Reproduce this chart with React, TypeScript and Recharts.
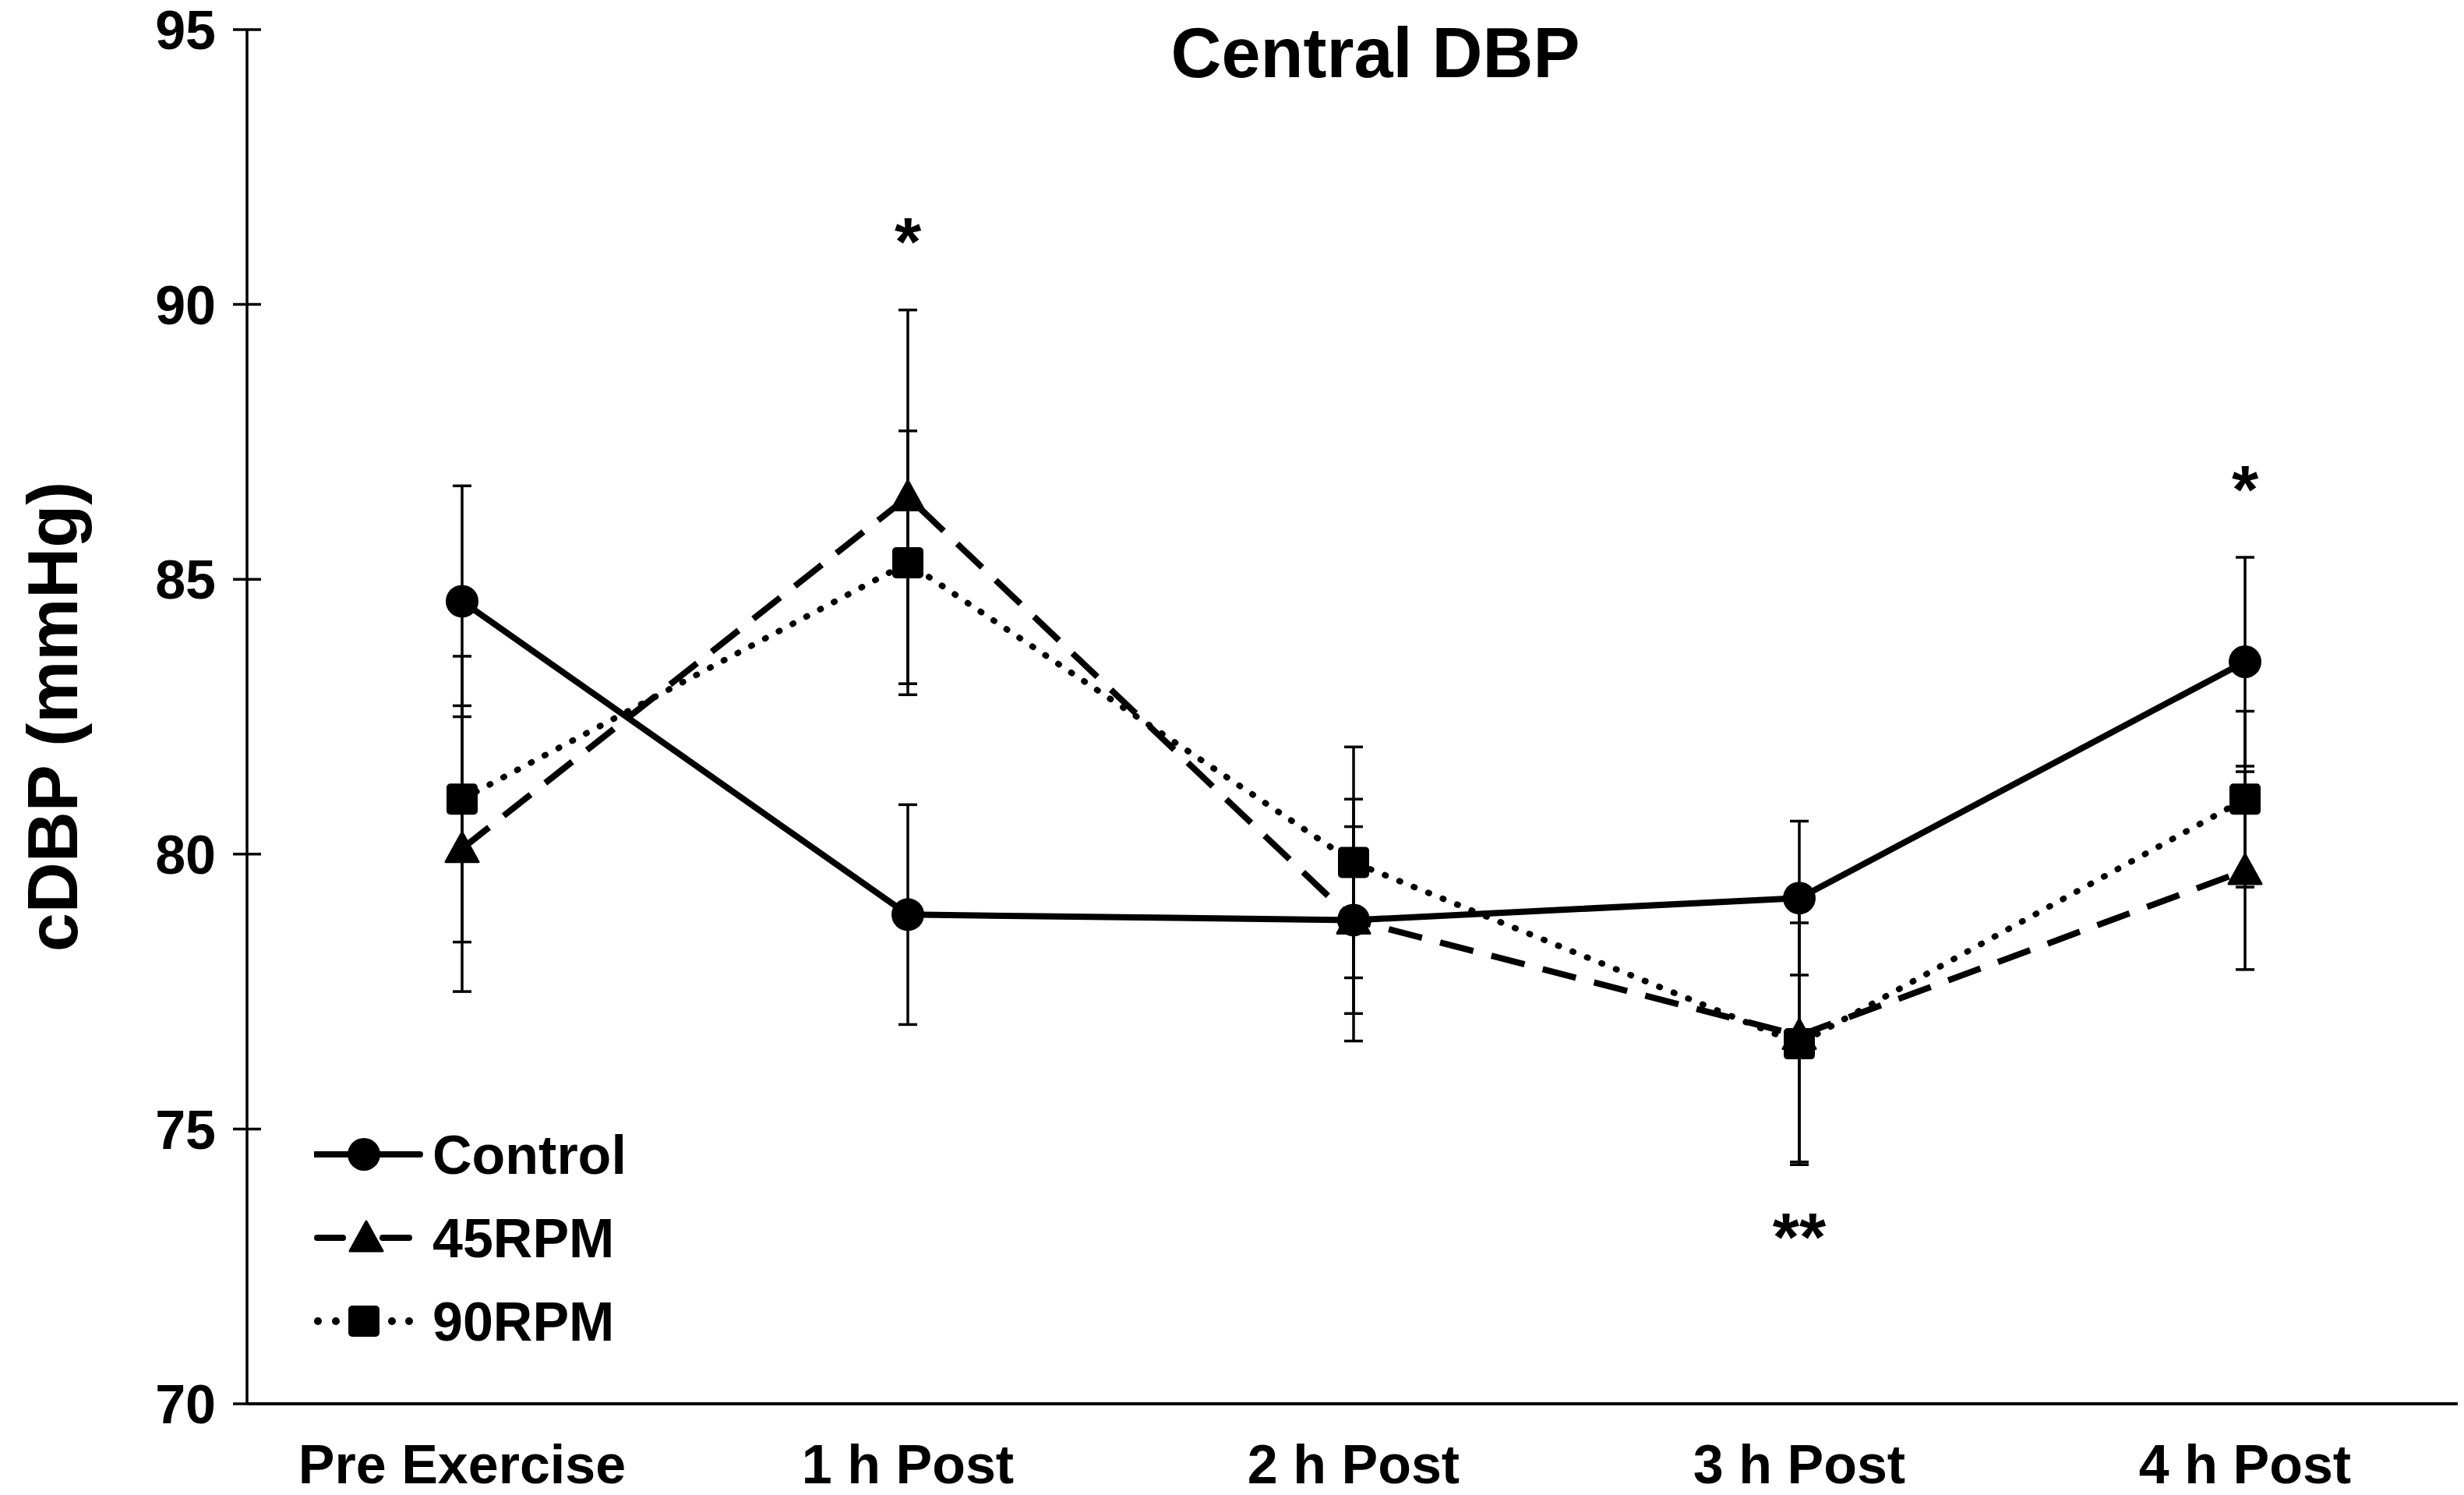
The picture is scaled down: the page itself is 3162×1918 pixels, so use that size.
import {
  LineChart,
  Line,
  XAxis,
  YAxis,
  ErrorBar,
  Legend,
  ReferenceDot,
} from "recharts";

const FONT = "'Liberation Sans', Arial, sans-serif";

const timepoints = ["Pre Exercise", "1 h Post", "2 h Post", "3 h Post", "4 h Post"];
const controlMean = [84.6, 78.9, 78.8, 79.2, 83.5];
const controlErr = [2.1, 2.0, 2.2, 1.4, 1.9];
const rpm45Mean = [80.1, 86.5, 78.8, 76.7, 79.7];
const rpm45Err = [2.6, 3.4, 1.7, 2.3, 1.8];
const rpm90Mean = [81.0, 85.3, 79.85, 76.55, 81.0];
const rpm90Err = [2.6, 2.4, 2.1, 2.2, 1.6];
const yTicks = [70, 75, 80, 85, 90, 95];

// significance markers
const sigTimes = ["1 h Post", "3 h Post", "4 h Post"];
const sigLevels = [91.3, 73.2, 86.8];
const sigMarks = ["*", "**", "*"];

const data = timepoints.map((t, i) => ({
  time: t,
  control: controlMean[i],
  controlErr: controlErr[i],
  rpm45: rpm45Mean[i],
  rpm45Err: rpm45Err[i],
  rpm90: rpm90Mean[i],
  rpm90Err: rpm90Err[i],
}));

const W = 3162;
const H = 1918;

const CircleDot = (props: any) => {
  const { cx, cy, index } = props;
  if (cx == null || cy == null) return null;
  return <circle key={`c-${index}`} cx={cx} cy={cy} r={21} fill="#000" />;
};

const TriangleDot = (props: any) => {
  const { cx, cy, index } = props;
  if (cx == null || cy == null) return null;
  return (
    <polygon
      key={`t-${index}`}
      points={`${cx},${cy - 21} ${cx - 21},${cy + 17} ${cx + 21},${cy + 17}`}
      fill="#000"
      stroke="#000"
      strokeWidth={3}
      strokeLinejoin="round"
    />
  );
};

const SquareDot = (props: any) => {
  const { cx, cy, index } = props;
  if (cx == null || cy == null) return null;
  return <rect key={`s-${index}`} x={cx - 20} y={cy - 20} width={40} height={40} rx={5} fill="#000" />;
};

const YTick = (props: any) => {
  const { x, y, payload } = props;
  return (
    <g>
      <line x1={x - 18} x2={x + 18} y1={y} y2={y} stroke="#000" strokeWidth={3.5} />
      <text
        x={x - 40}
        y={y}
        dy="0.36em"
        textAnchor="end"
        fontFamily={FONT}
        fontWeight="bold"
        fontSize={70}
        fill="#000"
      >
        {payload.value}
      </text>
    </g>
  );
};

const XTick = (props: any) => {
  const { x, y, payload } = props;
  return (
    <text
      x={x}
      y={y}
      dy="0.71em"
      textAnchor="middle"
      fontFamily={FONT}
      fontWeight="bold"
      fontSize={70}
      fill="#000"
    >
      {payload.value}
    </text>
  );
};

const legendNames = ["Control", "45RPM", "90RPM"];

const LegendBox = () => {
  const rowY = (i: number) => 53 + i * 107;
  return (
    <svg width={520} height={330}>
      {/* Control: solid line with circle */}
      <line x1={2} x2={136} y1={rowY(0)} y2={rowY(0)} stroke="#000" strokeWidth={8} strokeLinecap="round" />
      <CircleDot cx={64} cy={rowY(0)} index={0} />
      {/* 45RPM: dash, triangle, dash */}
      <line x1={4} x2={37} y1={rowY(1)} y2={rowY(1)} stroke="#000" strokeWidth={8} strokeLinecap="round" />
      <line x1={88} x2={122} y1={rowY(1)} y2={rowY(1)} stroke="#000" strokeWidth={8} strokeLinecap="round" />
      <TriangleDot cx={67} cy={rowY(1)} index={1} />
      {/* 90RPM: dots, square, dots */}
      {[5, 28, 100, 122].map((x) => (
        <circle key={x} cx={x} cy={rowY(2)} r={5} fill="#000" />
      ))}
      <SquareDot cx={64} cy={rowY(2)} index={2} />
      {legendNames.map((n, i) => (
        <text
          key={n}
          x={152}
          y={rowY(i)}
          dy="0.36em"
          fontFamily={FONT}
          fontWeight="bold"
          fontSize={70}
          fill="#000"
        >
          {n}
        </text>
      ))}
    </svg>
  );
};

const SIG_SIZE = 88;

const SigLabel = (mark: string) => (props: any) => {
  const { viewBox } = props;
  if (!viewBox) return null;
  return (
    <text
      x={viewBox.x}
      y={viewBox.y + SIG_SIZE * 0.47}
      textAnchor="middle"
      fontFamily={FONT}
      fontWeight="bold"
      fontSize={SIG_SIZE}
      fill="#000"
    >
      {mark}
    </text>
  );
};

export default function App() {
  return (
    <div style={{ position: "relative", width: W, height: H, margin: "-8px 0 0 -8px", background: "#fff" }}>
      <LineChart width={W} height={H} data={data} margin={{ top: 38, right: 5, bottom: 0, left: 0 }}>
        <XAxis
          dataKey="time"
          height={117}
          padding={{ left: 276, right: 276 }}
          axisLine={{ stroke: "#000", strokeWidth: 4 }}
          tickLine={false}
          tickSize={0}
          tickMargin={52}
          tick={<XTick />}
          interval={0}
        />
        <YAxis
          domain={[70, 95]}
          ticks={yTicks}
          width={317}
          axisLine={{ stroke: "#000", strokeWidth: 3.5 }}
          tickLine={false}
          tickSize={0}
          tickMargin={0}
          tick={<YTick />}
          interval={0}
          label={{
            value: "cDBP (mmHg)",
            angle: -90,
            position: "insideLeft",
            offset: 67,
            style: { textAnchor: "middle", fontFamily: FONT, fontWeight: "bold", fontSize: 90, fill: "#000" },
          }}
        />
        <Legend
          layout="vertical"
          align="center"
          verticalAlign="middle"
          content={<LegendBox />}
          wrapperStyle={{ position: "absolute", left: 403, top: 1428, width: 520, height: 330 }}
        />
        <Line
          dataKey="rpm90"
          stroke="#000"
          strokeWidth={8}
          strokeDasharray="1 19"
          strokeLinecap="round"
          dot={SquareDot}
          activeDot={false}
          isAnimationActive={false}
        >
          <ErrorBar dataKey="rpm90Err" width={12} stroke="#000" strokeWidth={3.5} />
        </Line>
        <Line
          dataKey="rpm45"
          stroke="#000"
          strokeWidth={8}
          strokeDasharray="44 24"
          dot={TriangleDot}
          activeDot={false}
          isAnimationActive={false}
        >
          <ErrorBar dataKey="rpm45Err" width={12} stroke="#000" strokeWidth={3.5} />
        </Line>
        <Line
          dataKey="control"
          stroke="#000"
          strokeWidth={8}
          dot={CircleDot}
          activeDot={false}
          isAnimationActive={false}
        >
          <ErrorBar dataKey="controlErr" width={12} stroke="#000" strokeWidth={3.5} />
        </Line>
        {sigTimes.map((t, i) => (
          <ReferenceDot
            key={t}
            x={t}
            y={sigLevels[i]}
            r={0}
            fill="none"
            stroke="none"
            label={{ content: SigLabel(sigMarks[i]) }}
          />
        ))}
      </LineChart>
      <div
        style={{
          position: "absolute",
          left: 1765 - 400,
          width: 800,
          top: 68 - 50,
          height: 100,
          lineHeight: "100px",
          textAlign: "center",
          fontFamily: FONT,
          fontWeight: "bold",
          fontSize: 90,
          color: "#000",
        }}
      >
        Central DBP
      </div>
    </div>
  );
}
